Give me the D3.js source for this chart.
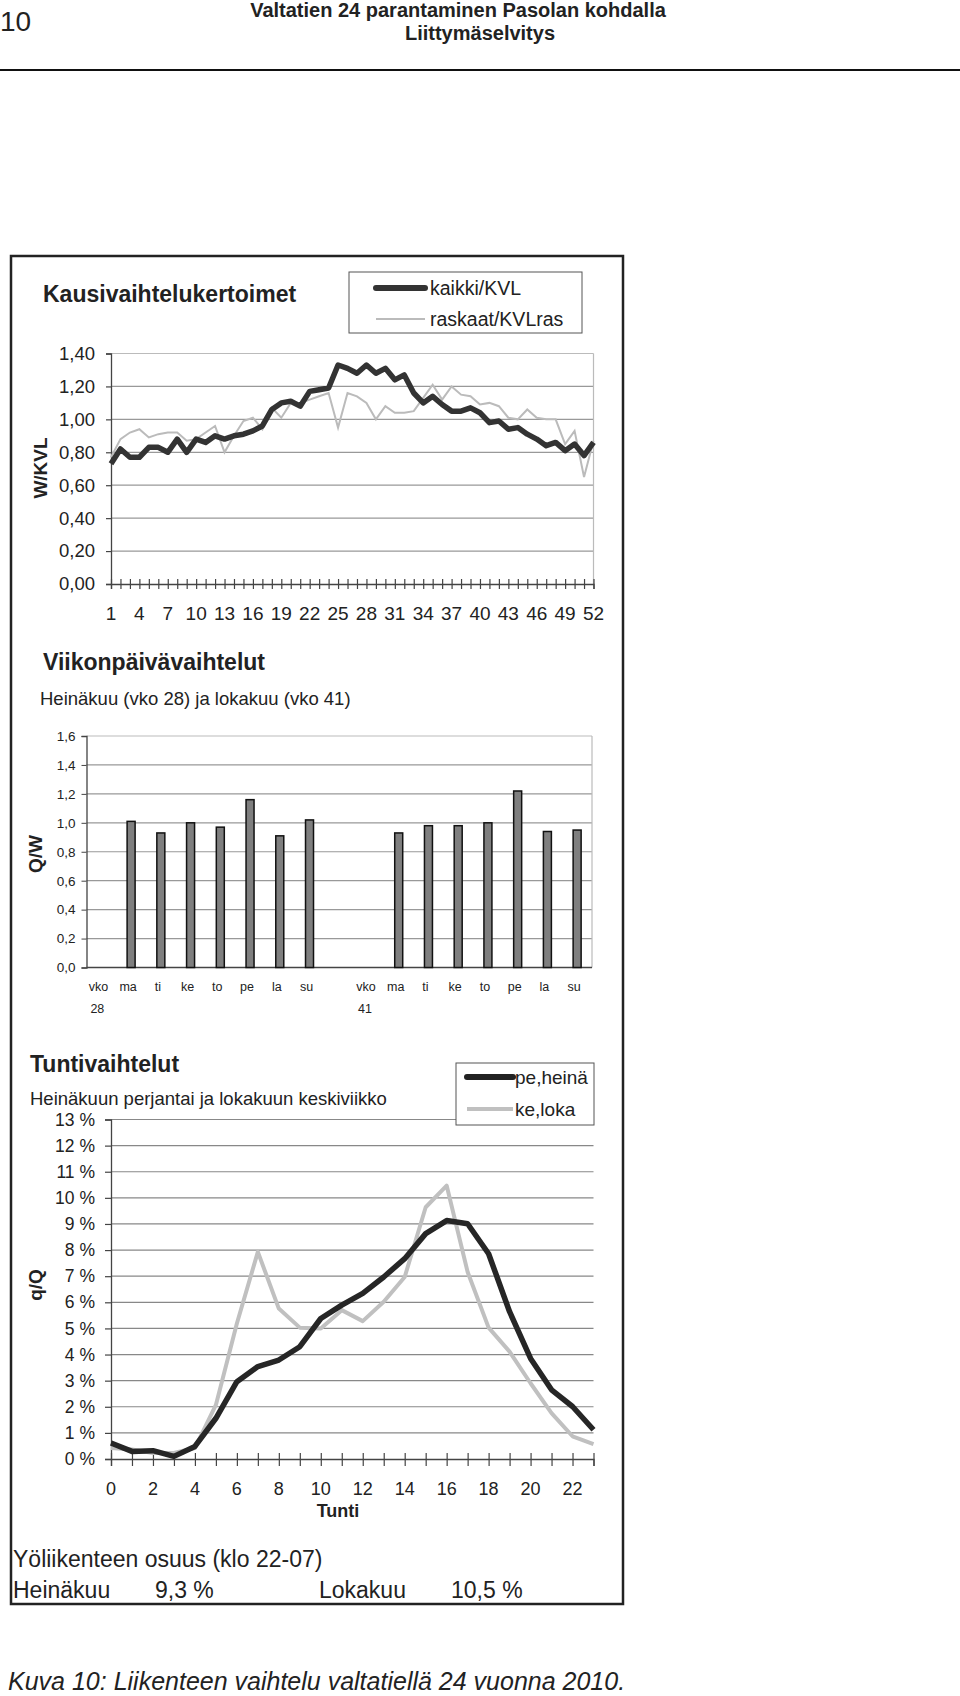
<!DOCTYPE html>
<html>
<head>
<meta charset="utf-8">
<script src="https://cdn.jsdelivr.net/npm/d3@7"></script>
<style>
  body { margin: 0; background: #fff; }
  svg { display: block; }
  text { font-family: "Liberation Sans", Arial, sans-serif; fill: #222; }
</style>
</head>
<body>
<div id="chart"></div>
<script>
// kausivaihtelu: viikot 1..52
const viikot = d3.range(1, 53);
const kaikkiKVL = [0.73, 0.82, 0.77, 0.77, 0.83, 0.83, 0.80, 0.88, 0.80, 0.88,
  0.86, 0.90, 0.88, 0.90, 0.91, 0.93, 0.96, 1.06, 1.10, 1.11,
  1.08, 1.17, 1.18, 1.19, 1.33, 1.31, 1.28, 1.33, 1.28, 1.31,
  1.24, 1.27, 1.16, 1.10, 1.14, 1.09, 1.05, 1.05, 1.07, 1.04,
  0.98, 0.99, 0.94, 0.95, 0.91, 0.88, 0.84, 0.86, 0.81, 0.85,
  0.78, 0.86];
const raskaatKVL = [0.77, 0.88, 0.92, 0.94, 0.89, 0.91, 0.92, 0.92, 0.87, 0.88,
  0.92, 0.96, 0.80, 0.90, 0.99, 1.01, 0.94, 1.07, 1.01, 1.10,
  1.10, 1.12, 1.14, 1.16, 0.95, 1.16, 1.14, 1.10, 1.00, 1.08,
  1.04, 1.04, 1.05, 1.13, 1.21, 1.12, 1.20, 1.15, 1.14, 1.09,
  1.10, 1.08, 1.01, 1.00, 1.06, 1.01, 1.00, 1.00, 0.85, 0.93,
  0.65, 0.87];
const viikkoTicks = [1, 4, 7, 10, 13, 16, 19, 22, 25, 28, 31, 34, 37, 40, 43, 46, 49, 52];
const kvlTicks = [0, 0.2, 0.4, 0.6, 0.8, 1.0, 1.2, 1.4];

// viikonpäivät
const paivat = ['ma', 'ti', 've', 'to', 'pe', 'la', 'su'];
const paivaNimet = ['ma', 'ti', 'ke', 'to', 'pe', 'la', 'su'];
const heinakuuQW = [1.01, 0.93, 1.00, 0.97, 1.16, 0.91, 1.02];
const lokakuuQW = [0.93, 0.98, 0.98, 1.00, 1.22, 0.94, 0.95];
const qwTicks = [0, 0.2, 0.4, 0.6, 0.8, 1.0, 1.2, 1.4, 1.6];

// tuntivaihtelu (% vuorokaudesta)
const tunnit = d3.range(0, 24);
const peHeina = [0.61, 0.29, 0.32, 0.10, 0.48, 1.56, 2.96, 3.54, 3.79, 4.30,
  5.38, 5.89, 6.34, 6.97, 7.67, 8.63, 9.13, 9.01, 7.86, 5.64,
  3.85, 2.65, 2.01, 1.12];
const keLoka = [0.42, 0.36, 0.23, 0.23, 0.42, 2.07, 5.19, 7.93, 5.76, 5.03,
  5.00, 5.70, 5.28, 6.02, 6.97, 9.64, 10.47, 7.16, 5.03, 4.11,
  2.90, 1.76, 0.87, 0.57];
const tuntiLabels = [0, 2, 4, 6, 8, 10, 12, 14, 16, 18, 20, 22];
const prosenttiTicks = d3.range(0, 14);

const W = 960, H = 1696;
const svg = d3.select('#chart').append('svg')
  .attr('width', W).attr('height', H);

function teksti(x, y, s, opts = {}) {
  const t = svg.append('text')
    .attr('x', x).attr('y', y)
    .attr('font-size', opts.size || 16)
    .attr('font-weight', opts.bold ? 'bold' : 'normal')
    .attr('text-anchor', opts.anchor || 'start')
    .text(s);
  if (opts.italic) t.attr('font-style', 'italic');
  if (opts.family) t.attr('font-family', opts.family);
  if (opts.rotate) t.attr('transform', `rotate(-90,${x},${y})`);
  return t;
}

// --- sivun otsake ---
teksti(0, 31, '10', { size: 28, family: '"Liberation Serif", serif' });
teksti(458, 17, 'Valtatien 24 parantaminen Pasolan kohdalla', { size: 20, bold: true, anchor: 'middle' });
teksti(480, 40, 'Liittymäselvitys', { size: 20, bold: true, anchor: 'middle' });
svg.append('line').attr('x1', 0).attr('x2', W).attr('y1', 70).attr('y2', 70)
  .attr('stroke', '#111').attr('stroke-width', 2);

// kehys
svg.append('rect').attr('x', 11).attr('y', 256).attr('width', 612).attr('height', 1348)
  .attr('fill', 'none').attr('stroke', '#222').attr('stroke-width', 2.5);

// ===== 1. Kausivaihtelukertoimet =====
const x1 = d3.scaleLinear().domain([1, 52]).range([111, 593.5]);
const y1 = d3.scaleLinear().domain([0, 1.4]).range([584, 353.5]);

teksti(43, 302, 'Kausivaihtelukertoimet', { size: 23, bold: true });

const g1 = svg.append('g');
g1.selectAll('line.grid').data(kvlTicks.filter(d => d > 0)).join('line')
  .attr('x1', x1(1)).attr('x2', x1(52))
  .attr('y1', d => y1(d)).attr('y2', d => y1(d))
  .attr('stroke', d => d === 1.4 ? '#bbb' : '#999').attr('stroke-width', 1.2);
g1.append('line').attr('x1', x1(52)).attr('x2', x1(52)).attr('y1', y1(1.4)).attr('y2', y1(0))
  .attr('stroke', '#bbb').attr('stroke-width', 1.2);

const yAxis1 = g1.append('g').attr('transform', `translate(${x1(1)},0)`)
  .call(d3.axisLeft(y1).tickValues(kvlTicks).tickSize(5).tickPadding(11)
    .tickFormat(d => d3.format('.2f')(d).replace('.', ',')));
const xAxis1 = g1.append('g').attr('transform', `translate(0,${y1(0)})`)
  .call(d3.axisBottom(x1).tickValues(viikot).tickSize(5).tickFormat(''));
xAxis1.selectAll('.tick line').attr('y1', -5);
[yAxis1, xAxis1].forEach(a => {
  a.select('.domain').attr('stroke', '#444').attr('stroke-width', 1.3);
  a.selectAll('.tick line').attr('stroke', '#444').attr('stroke-width', 1.2);
});
yAxis1.selectAll('text').attr('font-size', 18.5).attr('fill', '#222')
  .attr('font-family', '"Liberation Sans", Arial, sans-serif');
g1.selectAll('text.vk').data(viikkoTicks).join('text')
  .attr('class', 'vk').attr('x', d => x1(d)).attr('y', 620)
  .attr('text-anchor', 'middle').attr('font-size', 19).text(d => d);

teksti(47, 468, 'W/KVL', { size: 19, bold: true, anchor: 'middle', rotate: true });

const line1 = d3.line().x((d, i) => x1(viikot[i])).y(d => y1(d));
g1.append('path').datum(raskaatKVL).attr('d', line1)
  .attr('fill', 'none').attr('stroke', '#bbb').attr('stroke-width', 2);
g1.append('path').datum(kaikkiKVL).attr('d', line1)
  .attr('fill', 'none').attr('stroke', '#333').attr('stroke-width', 5.5)
  .attr('stroke-linejoin', 'round');

// legenda 1
svg.append('rect').attr('x', 349).attr('y', 272).attr('width', 233).attr('height', 61)
  .attr('fill', '#fff').attr('stroke', '#555').attr('stroke-width', 1);
svg.append('line').attr('x1', 376).attr('x2', 425).attr('y1', 288).attr('y2', 288)
  .attr('stroke', '#333').attr('stroke-width', 6).attr('stroke-linecap', 'round');
teksti(430, 295, 'kaikki/KVL', { size: 19.5 });
svg.append('line').attr('x1', 376).attr('x2', 425).attr('y1', 319).attr('y2', 319)
  .attr('stroke', '#bbb').attr('stroke-width', 2);
teksti(430, 326, 'raskaat/KVLras', { size: 19.5 });

// ===== 2. Viikonpäivävaihtelut =====
teksti(43, 670, 'Viikonpäivävaihtelut', { size: 23, bold: true });
teksti(40, 705, 'Heinäkuu (vko 28) ja lokakuu (vko 41)', { size: 18.5 });

const kategoriat = ['vko28'].concat(paivat.map(p => 'h-' + p), ['tyhja', 'vko41'], paivat.map(p => 'l-' + p));
const x2 = d3.scaleBand().domain(kategoriat).range([86.5, 592]);
const y2 = d3.scaleLinear().domain([0, 1.6]).range([967.5, 736]);

const g2 = svg.append('g');
g2.selectAll('line.grid').data(qwTicks.filter(d => d > 0)).join('line')
  .attr('x1', 86.5).attr('x2', 592)
  .attr('y1', d => y2(d)).attr('y2', d => y2(d))
  .attr('stroke', d => d === 1.6 ? '#bbb' : '#999').attr('stroke-width', 1.2);
g2.append('line').attr('x1', 592).attr('x2', 592).attr('y1', y2(1.6)).attr('y2', y2(0))
  .attr('stroke', '#bbb').attr('stroke-width', 1.2);
const yAxis2 = g2.append('g').attr('transform', 'translate(86.5,0)')
  .call(d3.axisLeft(y2).tickValues(qwTicks).tickSize(5).tickPadding(6)
    .tickFormat(d => d3.format('.1f')(d).replace('.', ',')));
yAxis2.select('.domain').attr('stroke', '#444').attr('stroke-width', 1.3);
yAxis2.selectAll('.tick line').attr('stroke', '#444');
yAxis2.selectAll('text').attr('font-size', 13.5).attr('fill', '#222')
  .attr('font-family', '"Liberation Sans", Arial, sans-serif');
g2.append('line').attr('x1', 86.5).attr('x2', 592).attr('y1', y2(0)).attr('y2', y2(0))
  .attr('stroke', '#444').attr('stroke-width', 1.3);

const palkit = paivat.map((p, i) => ({ k: 'h-' + p, v: heinakuuQW[i] }))
  .concat(paivat.map((p, i) => ({ k: 'l-' + p, v: lokakuuQW[i] })));
const bw = 8;
g2.selectAll('rect.bar').data(palkit).join('rect')
  .attr('x', d => x2(d.k) + x2.bandwidth() / 2 - bw / 2)
  .attr('y', d => y2(d.v))
  .attr('width', bw).attr('height', d => y2(0) - y2(d.v))
  .attr('fill', '#7f7f7f').attr('stroke', '#111').attr('stroke-width', 1.5);

const kLabels = [{ k: 'vko28', t: 'vko', t2: '28' }]
  .concat(paivat.map((p, i) => ({ k: 'h-' + p, t: paivaNimet[i] })),
    [{ k: 'vko41', t: 'vko', t2: '41' }],
    paivat.map((p, i) => ({ k: 'l-' + p, t: paivaNimet[i] })));
g2.selectAll('text.kat').data(kLabels).join('text')
  .attr('class', 'kat').attr('x', d => x2(d.k) + x2.bandwidth() / 2 - 3).attr('y', 991)
  .attr('text-anchor', 'middle').attr('font-size', 12.5).text(d => d.t);
g2.selectAll('text.kat2').data(kLabels.filter(d => d.t2)).join('text')
  .attr('class', 'kat2').attr('x', d => x2(d.k) + x2.bandwidth() / 2 - 4).attr('y', 1013)
  .attr('text-anchor', 'middle').attr('font-size', 12.5).text(d => d.t2);

teksti(42, 854, 'Q/W', { size: 19, bold: true, anchor: 'middle', rotate: true });

// ===== 3. Tuntivaihtelut =====
teksti(30, 1072, 'Tuntivaihtelut', { size: 23, bold: true });
teksti(30, 1105, 'Heinäkuun perjantai ja lokakuun keskiviikko', { size: 18.5 });

const x3 = d3.scaleLinear().domain([0, 23]).range([111, 593.5]);
const y3 = d3.scaleLinear().domain([0, 13]).range([1459, 1119.5]);

const g3 = svg.append('g');
g3.selectAll('line.grid').data(prosenttiTicks.filter(d => d > 0)).join('line')
  .attr('x1', x3(0)).attr('x2', x3(23))
  .attr('y1', d => y3(d)).attr('y2', d => y3(d))
  .attr('stroke', '#888').attr('stroke-width', 1.2);
const yAxis3 = g3.append('g').attr('transform', `translate(${x3(0)},0)`)
  .call(d3.axisLeft(y3).tickValues(prosenttiTicks).tickSize(6).tickPadding(10)
    .tickFormat(d => d + ' %'));
const xAxis3 = g3.append('g').attr('transform', `translate(0,${y3(0)})`)
  .call(d3.axisBottom(x3).tickValues(tunnit).tickSize(7).tickFormat(''));
xAxis3.selectAll('.tick line').attr('y1', -6);
[yAxis3, xAxis3].forEach(a => {
  a.select('.domain').attr('stroke', '#444').attr('stroke-width', 1.3);
  a.selectAll('.tick line').attr('stroke', '#444').attr('stroke-width', 1.2);
});
yAxis3.selectAll('text').attr('font-size', 17.5).attr('fill', '#222')
  .attr('font-family', '"Liberation Sans", Arial, sans-serif');
g3.selectAll('text.tl').data(tuntiLabels).join('text')
  .attr('class', 'tl').attr('x', d => x3(d)).attr('y', 1495)
  .attr('text-anchor', 'middle').attr('font-size', 18).text(d => d);
teksti(338, 1517, 'Tunti', { size: 18, bold: true, anchor: 'middle' });
teksti(42, 1285, 'q/Q', { size: 19, bold: true, anchor: 'middle', rotate: true });

const line3 = d3.line().x((d, i) => x3(tunnit[i])).y(d => y3(d));
g3.append('path').datum(keLoka).attr('d', line3)
  .attr('fill', 'none').attr('stroke', '#c0c0c0').attr('stroke-width', 4)
  .attr('stroke-linejoin', 'round');
g3.append('path').datum(peHeina).attr('d', line3)
  .attr('fill', 'none').attr('stroke', '#262626').attr('stroke-width', 5.5)
  .attr('stroke-linejoin', 'round');

// legenda 3
svg.append('rect').attr('x', 456).attr('y', 1063).attr('width', 138).attr('height', 62)
  .attr('fill', '#fff').attr('stroke', '#555').attr('stroke-width', 1);
svg.append('line').attr('x1', 467).attr('x2', 513).attr('y1', 1077).attr('y2', 1077)
  .attr('stroke', '#222').attr('stroke-width', 6).attr('stroke-linecap', 'round');
teksti(515, 1084, 'pe,heinä', { size: 19 });
svg.append('line').attr('x1', 467).attr('x2', 513).attr('y1', 1109).attr('y2', 1109)
  .attr('stroke', '#c0c0c0').attr('stroke-width', 4);
teksti(515, 1116, 'ke,loka', { size: 19 });

// yöliikenne
teksti(13, 1567, 'Yöliikenteen osuus (klo 22-07)', { size: 23 });
teksti(13, 1598, 'Heinäkuu', { size: 23 });
teksti(155, 1598, '9,3 %', { size: 23 });
teksti(319, 1598, 'Lokakuu', { size: 23 });
teksti(451, 1598, '10,5 %', { size: 23 });

// kuvateksti
teksti(8, 1690, 'Kuva 10: Liikenteen vaihtelu valtatiellä 24 vuonna 2010.', { size: 25, italic: true });
</script>
</body>
</html>
